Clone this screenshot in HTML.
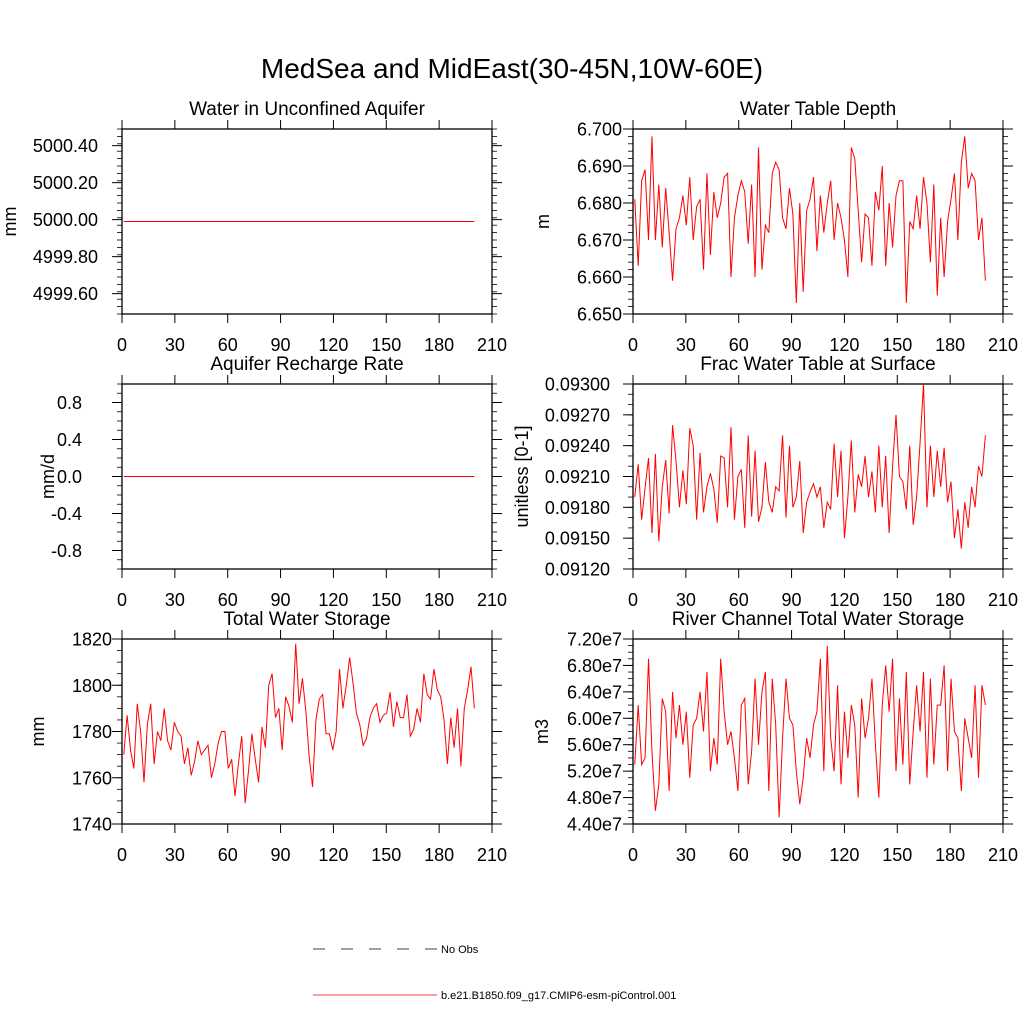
<!DOCTYPE html>
<html><head><meta charset="utf-8"><style>
body{margin:0;background:#fff;}
svg text{font-family:"Liberation Sans",sans-serif;fill:#000;}
</style></head><body>
<svg id="chart" width="1024" height="1024" viewBox="0 0 1024 1024">
<text x="512" y="78" font-size="28" text-anchor="middle">MedSea and MidEast(30-45N,10W-60E)</text>
<g id="plots"></g>
<g>
<line x1="313" y1="949" x2="437" y2="949" stroke="#000" stroke-width="0.8" stroke-dasharray="12,16"/>
<text x="441" y="953" font-size="11">No Obs</text>
<line x1="313" y1="995" x2="437" y2="995" stroke="#f00" stroke-width="0.8"/>
<text x="441" y="999" font-size="11">b.e21.B1850.f09_g17.CMIP6-esm-piControl.001</text>
</g>
</svg>
<script>
const xTicks=[0,30,60,90,120,150,180,210];
const aquiferVals=[4999.99,4999.99];
const rechargeVals=[0,0];
const wtdVals=[6.681,6.663,6.686,6.689,6.670,6.698,6.670,6.685,6.668,6.684,6.672,6.659,6.673,6.676,6.682,6.674,6.687,6.670,6.679,6.681,6.662,6.688,6.666,6.683,6.676,6.680,6.687,6.688,6.660,6.676,6.682,6.686,6.683,6.669,6.685,6.660,6.695,6.662,6.674,6.672,6.688,6.691,6.689,6.676,6.673,6.684,6.677,6.653,6.680,6.656,6.678,6.681,6.687,6.667,6.682,6.672,6.680,6.686,6.670,6.680,6.676,6.670,6.660,6.695,6.692,6.678,6.664,6.677,6.676,6.663,6.683,6.678,6.690,6.663,6.680,6.668,6.682,6.686,6.686,6.653,6.675,6.673,6.682,6.673,6.687,6.680,6.664,6.685,6.655,6.676,6.660,6.675,6.681,6.688,6.670,6.691,6.698,6.684,6.688,6.686,6.670,6.676,6.659];
const fracVals=[0.09190,0.09222,0.09168,0.09199,0.09228,0.09155,0.09232,0.09147,0.09200,0.09226,0.09174,0.09260,0.09225,0.09180,0.09216,0.09183,0.09257,0.09240,0.09168,0.09233,0.09175,0.09200,0.09213,0.09198,0.09165,0.09230,0.09228,0.09180,0.09258,0.09168,0.09210,0.09217,0.09160,0.09250,0.09171,0.09235,0.09166,0.09180,0.09224,0.09185,0.09175,0.09200,0.09196,0.09250,0.09170,0.09240,0.09180,0.09190,0.09225,0.09155,0.09185,0.09195,0.09203,0.09190,0.09200,0.09160,0.09185,0.09178,0.09242,0.09190,0.09235,0.09150,0.09190,0.09245,0.09175,0.09212,0.09200,0.09230,0.09190,0.09215,0.09175,0.09240,0.09180,0.09230,0.09155,0.09220,0.09270,0.09210,0.09205,0.09178,0.09240,0.09163,0.09190,0.09243,0.09300,0.09180,0.09240,0.09190,0.09235,0.09200,0.09238,0.09185,0.09205,0.09150,0.09178,0.09140,0.09185,0.09160,0.09200,0.09180,0.09220,0.09210,0.09250];
const twsVals=[1770,1787,1772,1764,1792,1780,1758,1783,1792,1766,1780,1776,1790,1776,1772,1784,1780,1778,1766,1773,1761,1767,1776,1770,1772,1774,1760,1766,1775,1780,1780,1764,1768,1752,1766,1778,1749,1763,1779,1768,1758,1782,1773,1800,1805,1786,1790,1772,1795,1791,1784,1818,1792,1803,1789,1769,1756,1785,1794,1796,1779,1779,1772,1780,1807,1790,1800,1812,1801,1788,1783,1774,1777,1786,1790,1792,1784,1787,1788,1797,1782,1793,1786,1786,1796,1778,1781,1790,1784,1805,1796,1794,1807,1798,1795,1785,1766,1786,1773,1790,1765,1790,1798,1808,1790];
const rivVals=[5.3e7,6.2e7,5.3e7,5.4e7,6.9e7,5.5e7,4.6e7,5.0e7,6.3e7,6.1e7,4.9e7,6.4e7,5.7e7,6.2e7,5.6e7,6.1e7,5.1e7,5.9e7,6.0e7,6.4e7,5.8e7,6.7e7,5.2e7,5.7e7,5.3e7,6.9e7,6.1e7,5.6e7,5.8e7,5.4e7,4.9e7,6.2e7,6.3e7,5.0e7,5.5e7,6.6e7,5.6e7,6.4e7,6.7e7,4.9e7,6.6e7,5.9e7,4.5e7,5.7e7,6.6e7,6.0e7,5.9e7,5.2e7,4.7e7,5.1e7,5.7e7,5.4e7,5.9e7,6.1e7,6.9e7,5.2e7,7.1e7,5.7e7,5.2e7,6.5e7,5.0e7,6.1e7,5.4e7,6.2e7,5.9e7,4.8e7,6.3e7,5.7e7,6.0e7,6.6e7,5.6e7,4.8e7,6.2e7,6.8e7,6.1e7,6.9e7,5.2e7,6.3e7,5.3e7,6.7e7,5.0e7,5.8e7,6.5e7,5.8e7,6.7e7,5.1e7,6.6e7,5.3e7,6.2e7,6.2e7,6.8e7,5.2e7,6.6e7,5.8e7,5.7e7,4.9e7,6.0e7,5.7e7,5.4e7,6.5e7,5.1e7,6.5e7,6.2e7];
const aqTicks=[4999.6,4999.8,5000.0,5000.2,5000.4];
const reTicks=[-0.8,-0.4,0.0,0.4,0.8];
const wtdTicks=[6.65,6.66,6.67,6.68,6.69,6.70];
const fracTicks=[0.0912,0.0915,0.0918,0.0921,0.0924,0.0927,0.0930];
const twsTicks=[1740,1760,1780,1800,1820];
const rivTicks=[4.4e7,4.8e7,5.2e7,5.6e7,6.0e7,6.4e7,6.8e7,7.2e7];

const NS='http://www.w3.org/2000/svg';
const root=document.getElementById('plots');
function mk(tag,attrs,parent){const e=document.createElementNS(NS,tag);for(const k in attrs)e.setAttribute(k,attrs[k]);parent.appendChild(e);return e;}
function fmtE(v){return (v/1e7).toFixed(2)+'e7';}
const panels=[
 {name:'aquifer-water',title:'Water in Unconfined Aquifer',ylab:'mm',x0:122,y0:129,ymin:4999.49,ymax:5000.49,ticks:aqTicks,minor:0.04,fmt:v=>v.toFixed(2),vals:aquiferVals,ylx:16,lo:24},
 {name:'water-table-depth',title:'Water Table Depth',ylab:'m',x0:633,y0:129,ymin:6.65,ymax:6.70,ticks:wtdTicks,minor:0.002,fmt:v=>v.toFixed(3),vals:wtdVals,ylx:549,lo:11},
 {name:'recharge-rate',title:'Aquifer Recharge Rate',ylab:'mm/d',x0:122,y0:384,ymin:-1,ymax:1,ticks:reTicks,minor:0.1,fmt:v=>v.toFixed(1),vals:rechargeVals,ylx:54,lo:40},
 {name:'frac-water-table',title:'Frac Water Table at Surface',ylab:'unitless [0-1]',x0:633,y0:384,ymin:0.0912,ymax:0.0930,ticks:fracTicks,minor:0.0001,fmt:v=>v.toFixed(5),vals:fracVals,ylx:528,lo:23},
 {name:'total-water-storage',title:'Total Water Storage',ylab:'mm',x0:122,y0:639,ymin:1740,ymax:1820,ticks:twsTicks,minor:5,fmt:v=>String(v),vals:twsVals,ylx:44,lo:10},
 {name:'river-channel-storage',title:'River Channel Total Water Storage',ylab:'m3',x0:633,y0:639,ymin:4.4e7,ymax:7.2e7,ticks:rivTicks,minor:0.1e7,fmt:fmtE,vals:rivVals,ylx:548,lo:11}
];
const W=370,H=185;
panels.forEach(p=>{
 const g=mk('g',{},root);
 
 
 const xs=v=>p.x0+v/210*W;
 const ys=v=>p.y0+H-(v-p.ymin)/(p.ymax-p.ymin)*H;
 const t=mk('text',{x:p.x0+W/2,y:p.y0-14,'font-size':19,'text-anchor':'middle'},g);t.textContent=p.title;
 
 
 const yl=mk('text',{x:p.ylx,y:p.y0+H/2,'font-size':18,'text-anchor':'middle',transform:`rotate(-90 ${p.ylx} ${p.y0+H/2})`},g);yl.textContent=p.ylab;
 
 
 const fr=mk('rect',{x:p.x0,y:p.y0,width:W,height:H,fill:'none',stroke:'#000','stroke-width':1.3},g);
 
 
 xTicks.forEach(v=>{
  const x=xs(v);
  mk('line',{x1:x,y1:p.y0+H,x2:x,y2:p.y0+H+9,stroke:'#000'},g);
  mk('line',{x1:x,y1:p.y0,x2:x,y2:p.y0-9,stroke:'#000'},g);
  const l=mk('text',{x:x,y:p.y0+H+37,'font-size':18,'text-anchor':'middle'},g);l.textContent=v;
  
  
 });
 const nMin=Math.round((p.ymax-p.ymin)/p.minor);
 for(let i=0;i<=nMin;i++){const y=ys(p.ymin+i*p.minor);
  mk('line',{x1:p.x0,y1:y,x2:p.x0-5,y2:y,stroke:'#000','stroke-width':0.8},g);
  mk('line',{x1:p.x0+W,y1:y,x2:p.x0+W+5,y2:y,stroke:'#000','stroke-width':0.8},g);}
 p.ticks.forEach(v=>{const y=ys(v);
  mk('line',{x1:p.x0,y1:y,x2:p.x0-10,y2:y,stroke:'#000'},g);
  mk('line',{x1:p.x0+W,y1:y,x2:p.x0+W+10,y2:y,stroke:'#000'},g);
  const l=mk('text',{x:p.x0-p.lo,y:y+6.5,'font-size':18,'text-anchor':'end'},g);l.textContent=p.fmt(v);
  
  
 });
 const n=p.vals.length;
 const pts=p.vals.map((v,i)=>xs(1+i*199/(n-1)).toFixed(2)+','+ys(v).toFixed(2)).join(' ');
 const pl=mk('polyline',{points:pts,fill:'none',stroke:'#f00','stroke-width':1},g);
 
 
});
</script>
</body></html>
